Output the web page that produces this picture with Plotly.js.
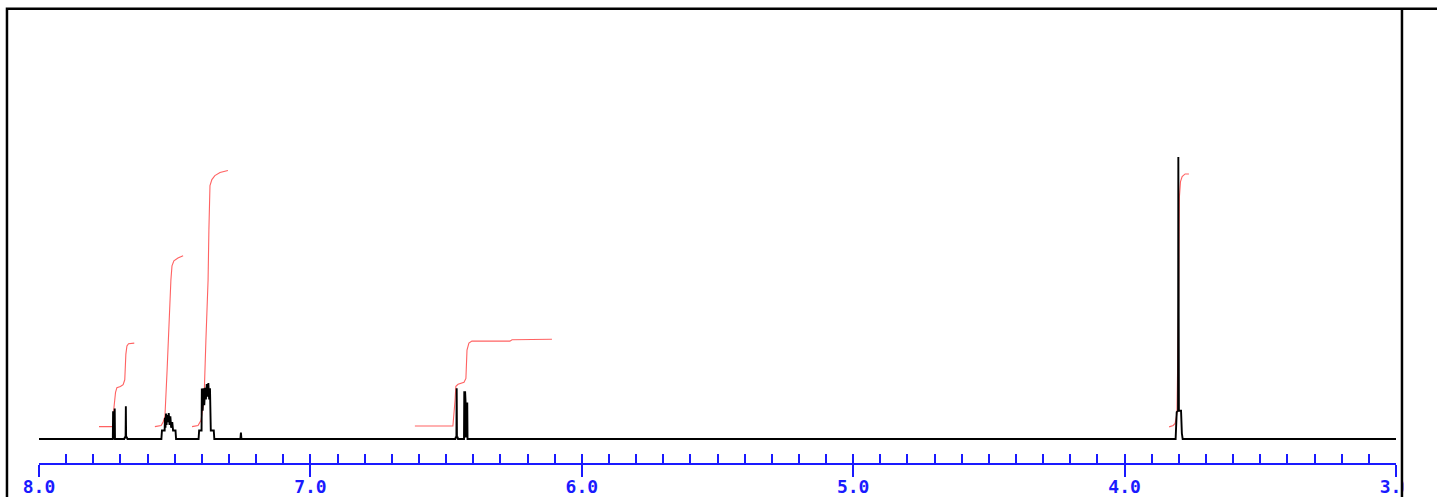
<!DOCTYPE html>
<html>
<head>
<meta charset="utf-8">
<script src="https://cdn.plot.ly/plotly-3.0.1.min.js"></script>
<style>
  html, body { margin: 0; padding: 0; background: #ffffff; }
  #chart { width: 1437px; height: 497px; }
</style>
</head>
<body>
<div id="chart"></div>
<script>
// ---- Data (chemical shift in ppm, intensity relative to tallest peak = 100) ----
const spectrumPpm = [
  8.000,
  7.728, 7.727, 7.725, 7.724, 7.723, 7.721, 7.720,
  7.686, 7.683, 7.681, 7.680, 7.679, 7.677, 7.674,
  7.549, 7.547, 7.537, 7.536, 7.534, 7.532, 7.530, 7.528, 7.525, 7.522, 7.519, 7.516, 7.513, 7.509, 7.506, 7.497, 7.495,
  7.412, 7.410, 7.401, 7.400, 7.397, 7.394, 7.391, 7.388, 7.385, 7.382, 7.379, 7.376, 7.373, 7.370, 7.367, 7.356, 7.354,
  7.258, 7.256, 7.254,
  6.466, 6.464, 6.462, 6.461, 6.460, 6.458, 6.456,
  6.434, 6.433, 6.431, 6.430, 6.428, 6.426, 6.425, 6.422, 6.421,
  3.812, 3.810, 3.808, 3.803, 3.802, 3.800, 3.792, 3.789, 3.786,
  3.000
];
const spectrumIntensity = [
  0,
  0, 9.5, 9.5, 0, 10.8, 10.8, 0,
  0, 0.8, 0.3, 11.6, 0.3, 0.8, 0,
  0, 3, 3, 7.5, 4, 9, 5, 8.5, 6, 9.2, 5, 8, 4, 6, 3, 3, 0,
  0, 3, 3, 17.9, 10, 18, 12, 18.2, 14, 19.5, 15, 19.8, 14, 18, 3, 3, 0,
  0, 2.3, 0,
  0, 0.8, 0.3, 18.0, 0.3, 0.8, 0,
  0, 16.9, 0.5, 16.9, 12.6, 0.5, 12.6, 12.6, 0,
  0, 5, 9.5, 10, 100, 10, 10, 2, 0,
  0
];

// Integral curves
const integral1Ppm   = [7.779, 7.728, 7.724, 7.718, 7.713, 7.700, 7.690, 7.684, 7.680, 7.676, 7.670, 7.649];
const integral1Value = [4.4, 4.4, 11.0, 16.5, 18.2, 18.6, 19.3, 21.0, 30.0, 33.0, 33.8, 34.0];

const integral2Ppm   = [7.573, 7.550, 7.543, 7.536, 7.528, 7.521, 7.514, 7.510, 7.503, 7.488, 7.469];
const integral2Value = [4.4, 4.8, 5.9, 8.0, 24.4, 42.2, 56.4, 61.4, 63.2, 64.2, 65.0];

const integral3Ppm   = [7.436, 7.414, 7.403, 7.392, 7.385, 7.377, 7.374, 7.370, 7.363, 7.352, 7.333, 7.304];
const integral3Value = [4.4, 4.8, 6.6, 13.7, 35.1, 56.4, 74.2, 89.9, 92.0, 93.4, 94.5, 95.2];

const integral4Ppm   = [6.615, 6.475, 6.467, 6.464, 6.456, 6.434, 6.427, 6.423, 6.416, 6.405, 6.265, 6.257, 6.110];
const integral4Value = [4.6, 4.6, 13.7, 18.7, 19.4, 20.1, 21.5, 31.5, 34.0, 34.7, 34.7, 35.2, 35.4];

const integral5Ppm   = [3.836, 3.821, 3.814, 3.807, 3.801, 3.798, 3.794, 3.788, 3.777, 3.763];
const integral5Value = [4.3, 4.8, 5.5, 9.1, 49.3, 85.9, 91.3, 93.1, 94.0, 94.0];

const majorTicks = [8, 7, 6, 5, 4, 3];
const majorTickLabels = ['8.0', '7.0', '6.0', '5.0', '4.0', '3.0'];

// ---- Traces ----
const integralColor = 'rgba(255,70,70,0.85)';
const integrals = [
  [integral1Ppm, integral1Value],
  [integral2Ppm, integral2Value],
  [integral3Ppm, integral3Value],
  [integral4Ppm, integral4Value],
  [integral5Ppm, integral5Value]
];
const traces = integrals.map(function (p) {
  return {
    type: 'scatter', mode: 'lines', x: p[0], y: p[1],
    line: { color: integralColor, width: 1.1 },
    hoverinfo: 'skip', showlegend: false
  };
});
traces.push({
  type: 'scatter', mode: 'lines', x: spectrumPpm, y: spectrumIntensity,
  line: { color: '#000000', width: 1.9 },
  hoverinfo: 'skip', showlegend: false
});
// invisible trace to carry the labelled / minor-tick axis
traces.push({
  type: 'scatter', mode: 'lines', x: [8, 3], y: [0, 0], xaxis: 'x2', yaxis: 'y',
  line: { color: 'rgba(0,0,0,0)', width: 0 }, hoverinfo: 'skip', showlegend: false
});

const blue = '#1a1aff';
const layout = {
  width: 1437, height: 497,
  margin: { l: 39, r: 41, t: 8, b: 34, pad: 0 },
  paper_bgcolor: '#ffffff', plot_bgcolor: '#ffffff',
  showlegend: false, hovermode: false,
  xaxis: {
    range: [8, 3], showgrid: false, zeroline: false,
    showline: true, linecolor: blue, linewidth: 2,
    ticks: 'outside', ticklen: 12, tickwidth: 2, tickcolor: blue,
    tickmode: 'array', tickvals: majorTicks, showticklabels: false
  },
  xaxis2: {
    range: [8, 3], overlaying: 'x', anchor: 'y', side: 'bottom',
    showgrid: false, zeroline: false, showline: false,
    ticks: 'inside', ticklen: 9, tickwidth: 2, tickcolor: blue,
    tickmode: 'array', tickvals: majorTicks, ticktext: majorTickLabels,
    ticklabelstandoff: 11,
    tickfont: { family: 'DejaVu Sans Mono, monospace', size: 18, color: blue, weight: 'bold' },
    minor: { ticks: 'inside', ticklen: 9, tickwidth: 2, tickcolor: blue, tick0: 3, dtick: 0.1, showgrid: false }
  },
  yaxis: {
    range: [-8.51, 152.84], visible: false, showgrid: false, zeroline: false, fixedrange: true
  },
  shapes: [
    { type: 'rect', xref: 'paper', yref: 'paper', x0: 1.0055, x1: 1.06, y0: -0.1, y1: 0.99,
      fillcolor: '#ffffff', line: { width: 0 }, layer: 'above' },
    { type: 'path', xref: 'paper', yref: 'paper',
      path: 'M -0.0236,-0.08 L -0.0236,0.9985 L 1.06,0.9985',
      line: { color: '#000000', width: 2.5 }, layer: 'above' },
    { type: 'line', xref: 'paper', yref: 'paper', x0: 1.0044, x1: 1.0044, y0: -0.08, y1: 0.9985,
      line: { color: '#000000', width: 2.5 }, layer: 'above' }
  ]
};

Plotly.newPlot('chart', traces, layout, { displayModeBar: false, staticPlot: true });
</script>
</body>
</html>
